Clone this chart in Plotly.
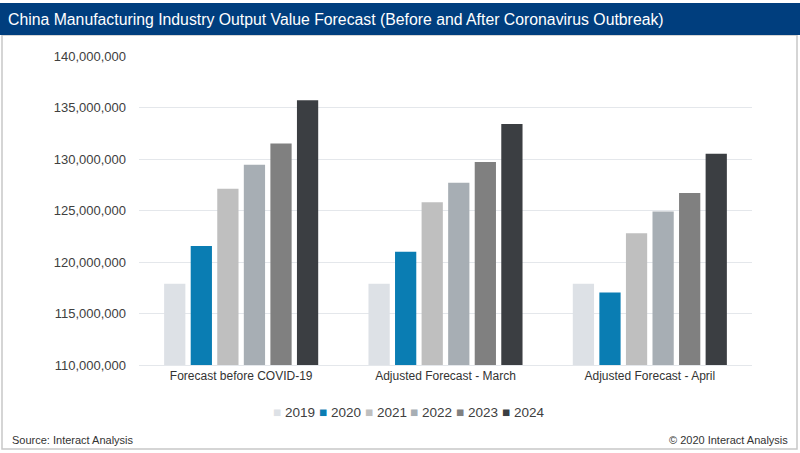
import plotly.graph_objects as go

# forecast scenarios on the x axis
scenarios = ["Forecast before COVID-19", "Adjusted Forecast - March", "Adjusted Forecast - April"]
years = ["2019", "2020", "2021", "2022", "2023", "2024"]

# output values per year, one entry per scenario
v2019 = [117900000, 117900000, 117900000]
v2020 = [121550000, 121000000, 117050000]
v2021 = [127100000, 125800000, 122800000]
v2022 = [129450000, 127700000, 124900000]
v2023 = [131500000, 129700000, 126700000]
v2024 = [135700000, 133400000, 130500000]

y_ticks = [110000000, 115000000, 120000000, 125000000, 130000000, 135000000, 140000000]

series = [v2019, v2020, v2021, v2022, v2023, v2024]
colors = ["#dde1e6", "#0a7db3", "#bfbfbf", "#a7aeb4", "#808080", "#3b3e42"]

font_main = "Liberation Sans, Arial, sans-serif"

fig = go.Figure()
for yr, vals, col in zip(years, series, colors):
    fig.add_trace(go.Bar(name=yr, x=scenarios, y=vals, marker=dict(color=col, line=dict(width=0))))

# plot area in pixels: x 139..752, y 56..365
W, H = 800, 453
L, R, T, B = 139, 752, 56, 365
pw, ph = R - L, B - T

def px(x):
    return (x - L) / pw

def py(y):
    return (B - y) / ph

shapes = [
    # outer light border
    dict(type="rect", xref="paper", yref="paper", x0=px(2), x1=px(797), y0=py(449), y1=py(35),
         line=dict(color="#c8c8c8", width=1.5), fillcolor="rgba(0,0,0,0)", layer="below"),
    # dark blue title band
    dict(type="rect", xref="paper", yref="paper", x0=px(0), x1=px(800), y0=py(35), y1=py(3),
         line=dict(width=0), fillcolor="#003e7e", layer="below"),
]

annotations = [
    dict(text="Source: Interact Analysis", xref="paper", yref="paper", x=px(10), y=py(440),
         xanchor="left", yanchor="middle", showarrow=False, font=dict(size=11, color="#333333")),
    dict(text="© 2020 Interact Analysis", xref="paper", yref="paper", x=px(790), y=py(440),
         xanchor="right", yanchor="middle", showarrow=False, font=dict(size=11, color="#333333")),
]

# compact legend like the original: small square + year, ~46px per item
for i, (yr, col) in enumerate(zip(years, colors)):
    annotations.append(dict(
        text=f'<span style="color:{col}">■</span> {yr}',
        xref="paper", yref="paper", x=px(271 + i * 45.8), y=py(412),
        xanchor="left", yanchor="middle", showarrow=False,
        font=dict(size=13.5, color="#404040"),
    ))

fig.update_layout(
    width=W, height=H,
    margin=dict(l=L, r=W - R, t=T, b=H - B),
    paper_bgcolor="white",
    plot_bgcolor="white",
    barmode="group",
    bargap=0.22,
    bargroupgap=0.2,
    font=dict(family=font_main, color="#404040"),
    title=dict(text="China Manufacturing Industry Output Value Forecast (Before and After Coronavirus Outbreak)",
               x=0.01, xanchor="left", y=1 - 19 / H, yanchor="middle",
               font=dict(color="white", size=15.8, family=font_main)),
    shapes=shapes,
    showlegend=False,
    annotations=annotations,
)

fig.update_yaxes(range=[110000000, 140000000], tickvals=y_ticks, tickformat=",d",
                 showgrid=True, gridcolor="#e4e7eb", gridwidth=1, zeroline=False,
                 showline=False, ticks="", ticklabelstandoff=12,
                 tickfont=dict(size=13, color="#404040"))
fig.update_xaxes(showgrid=False, showline=True, linecolor="#e4e7eb", ticks="",
                 tickfont=dict(size=12, color="#333333"))

# drop the default 8px body margin so the figure sits at the page corner
fig.write_html("out.html", config={"displayModeBar": False},
               post_script="document.body.style.margin='0';")
